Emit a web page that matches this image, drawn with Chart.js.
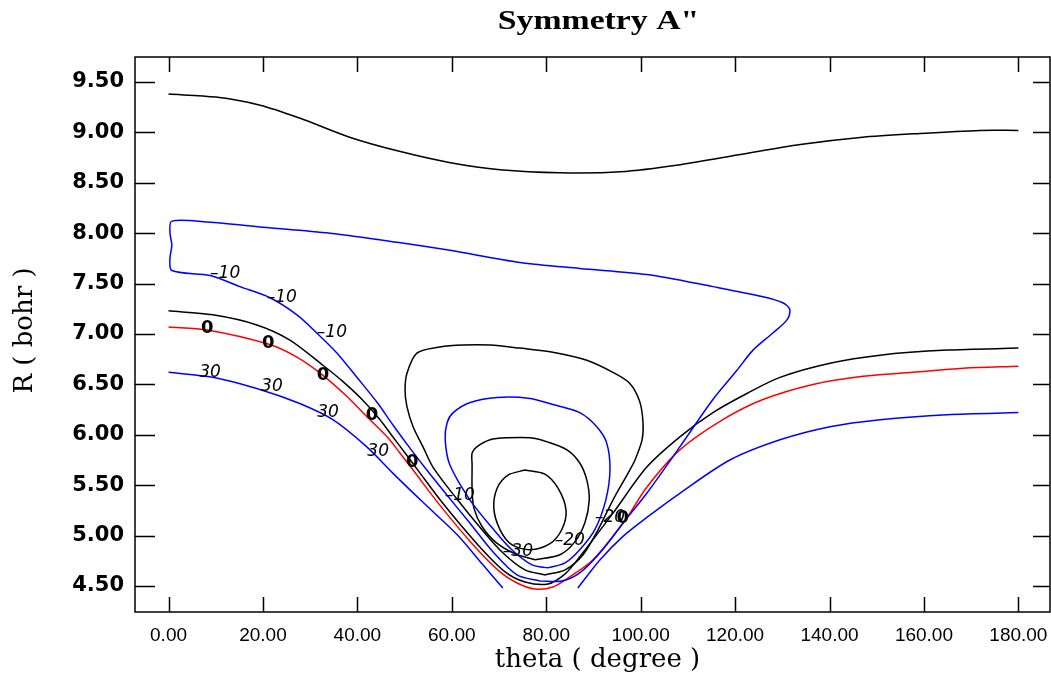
<!DOCTYPE html>
<html>
<head>
<meta charset="utf-8">
<title>Symmetry A"</title>
<script src="https://cdn.jsdelivr.net/npm/chart.js@4.4.1/dist/chart.umd.min.js"></script>
<style>
  html, body { margin: 0; padding: 0; background: #fff; }
</style>
</head>
<body>
<canvas id="contourChart" width="1051" height="675"></canvas>
<script>
// Contour lines, points are [theta (degree), R (bohr)]
const topBlack = [[0,9.38],[10,9.35],[19.4,9.27],[27.9,9.14],[38.5,8.95],[49.1,8.81],[59.7,8.70],[70.2,8.63],[82.9,8.60],[95.7,8.61],[108.4,8.68],[121.1,8.78],[133.8,8.88],[146.5,8.95],[159.2,8.99],[171.9,9.02],[180,9.02]];

const blueMinus10 = [[78.7,4.55],[73.8,4.61],[68.7,4.84],[63.9,5.12],[59.0,5.40],[54.7,5.65],[51.1,5.87],[47.5,6.10],[44.2,6.32],[39.9,6.57],[35.7,6.81],[31.4,7.01],[27.2,7.19],[21.5,7.36],[15.1,7.47],[8.8,7.58],[0.7,7.63],[0.3,7.75],[0.7,7.88],[0.3,8.01],[0.7,8.12],[8.2,8.11],[20.0,8.06],[34.2,8.00],[48.4,7.91],[59.6,7.83],[74.4,7.71],[87.1,7.65],[101.3,7.59],[115.3,7.47],[125.9,7.37],[130.1,7.31],[131.6,7.24],[131.0,7.14],[128.0,7.01],[123.8,6.84],[120.4,6.64],[115.3,6.35],[108.3,5.88],[101.3,5.42],[96.2,5.12],[91.4,4.83],[87.1,4.63],[83.3,4.55],[78.7,4.55]];

const blackOuter = [[0,7.23],[9.4,7.19],[18.7,7.09],[25.7,6.94],[32.7,6.69],[36.9,6.53],[41.0,6.35],[44.8,6.15],[47.5,5.98],[50.1,5.82],[52.8,5.65],[58.1,5.32],[65.5,4.91],[71.3,4.64],[75.5,4.54],[80.4,4.52],[84.0,4.62],[87.1,4.79],[94.1,5.22],[101.3,5.68],[108.3,5.98],[115.3,6.22],[122.5,6.41],[129.5,6.57],[140.1,6.71],[150.7,6.79],[164.9,6.84],[180,6.86]];

const redZero = [[0,7.07],[8.2,7.04],[21.1,6.90],[27.2,6.77],[32.7,6.59],[37.8,6.38],[42.0,6.18],[46.3,5.98],[49.0,5.82],[51.8,5.65],[57.5,5.30],[64.5,4.91],[70.2,4.64],[73.8,4.53],[77.6,4.47],[81.4,4.49],[85.0,4.59],[89.9,4.76],[96.7,5.15],[101.3,5.48],[108.3,5.85],[117.4,6.15],[125.9,6.35],[136.5,6.50],[147.1,6.58],[157.7,6.62],[168.3,6.66],[180,6.68]];

const blue30Left = [[0,6.62],[9.4,6.57],[20.0,6.44],[27.8,6.31],[34.8,6.15],[42.0,5.88],[47.5,5.62],[53.9,5.33],[61.1,5.01],[66.6,4.71],[70.8,4.48]];
const blue30Right = [[86.7,4.48],[91.4,4.76],[96.2,4.99],[101.3,5.18],[108.3,5.42],[118.9,5.75],[129.5,5.95],[140.1,6.08],[150.7,6.15],[164.9,6.20],[180,6.22]];

const wellBlack1 = [[79.7,4.61],[75.5,4.66],[70.8,4.83],[66.0,5.08],[61.3,5.35],[56.0,5.68],[53.9,5.88],[51.8,6.08],[50.5,6.28],[50.1,6.44],[50.5,6.61],[52.6,6.81],[57.5,6.87],[62.4,6.89],[68.1,6.89],[74.4,6.86],[81.4,6.82],[88.6,6.74],[94.1,6.62],[97.7,6.51],[99.8,6.33],[100.5,6.12],[100.3,5.95],[98.8,5.75],[97.7,5.65],[94.1,5.35],[91.0,5.06],[87.8,4.81],[84.0,4.66],[79.7,4.61]];

const wellBlue = [[80.4,4.68],[77.0,4.71],[72.7,4.86],[68.5,5.08],[63.9,5.35],[59.6,5.70],[58.6,5.95],[59.0,6.12],[60.3,6.22],[63.9,6.32],[69.6,6.37],[76.6,6.36],[81.4,6.30],[87.1,6.22],[90.7,6.08],[92.8,5.92],[93.5,5.65],[92.6,5.35],[90.3,5.06],[87.1,4.86],[84.0,4.73],[80.4,4.68]];

const wellBlack2 = [[77.6,4.76],[73.4,4.82],[69.4,4.93],[66.4,5.09],[64.7,5.27],[64.3,5.45],[64.3,5.70],[64.3,5.82],[65.3,5.88],[68.1,5.95],[71.7,5.97],[76.6,5.97],[80.2,5.93],[84.4,5.85],[87.1,5.72],[88.6,5.55],[89.1,5.35],[88.2,5.13],[86.1,4.94],[82.9,4.81],[77.6,4.76]];

const wellInner = [[75.5,5.65],[79.7,5.61],[82.5,5.47],[84.2,5.25],[83.3,5.06],[80.8,4.92],[76.6,4.86],[72.7,4.91],[70.2,5.06],[68.9,5.27],[69.6,5.47],[71.9,5.60],[75.5,5.65]];

// contour value labels
const labelText  = ['–10','–10','–10','0','0','0','0','0','0','30','30','30','30','–10','–30','–20','–20'];
const labelTheta = [12.0, 24.0, 34.6, 8.2, 21.1, 32.7, 43.1, 51.6, 96.2, 8.8, 21.9, 33.8, 44.4, 61.7, 74.0, 85.0, 93.5];
const labelR     = [7.60, 7.36, 7.01, 7.06, 6.91, 6.59, 6.19, 5.73, 5.17, 6.62, 6.48, 6.22, 5.83, 5.40, 4.84, 4.95, 5.18];

// axes
const xTickValues = [0, 20, 40, 60, 80, 100, 120, 140, 160, 180];
const yTickValues = [4.5, 5.0, 5.5, 6.0, 6.5, 7.0, 7.5, 8.0, 8.5, 9.0, 9.5];
const thetaRange = [-7.1, 186.7];
const rRange = [4.242, 9.748];

const BLUE = '#0000ff', RED = '#ff0000', BLACK = '#000000';

const contours = [
    { pts: topBlack, color: BLACK },
    { pts: blueMinus10, color: BLUE },
    { pts: blackOuter, color: BLACK },
    { pts: redZero, color: RED },
    { pts: blue30Left, color: BLUE },
    { pts: blue30Right, color: BLUE },
    { pts: wellBlack1, color: BLACK },
    { pts: wellBlue, color: BLUE },
    { pts: wellBlack2, color: BLACK },
    { pts: wellInner, color: BLACK }
];

function drawText(ctx, text, x, y, font, sx, angle) {
    ctx.save();
    ctx.translate(x, y);
    ctx.rotate(angle || 0);
    ctx.scale(sx || 1, 1);
    ctx.font = font;
    ctx.fillStyle = '#000';
    ctx.textAlign = 'center';
    ctx.textBaseline = 'middle';
    ctx.fillText(text, 0, 0);
    ctx.restore();
}

// frame with inward ticks, contour labels and titles
const framePlugin = {
    id: 'frame',
    afterDatasetsDraw(chart) {
        const ctx = chart.ctx;
        const { left, right, top, bottom } = chart.chartArea;
        const xs = chart.scales.x, ys = chart.scales.y;

        ctx.save();
        ctx.strokeStyle = '#000';
        ctx.lineWidth = 1.5;
        ctx.strokeRect(left, top, right - left, bottom - top);
        ctx.beginPath();
        xTickValues.forEach(v => {
            const px = Math.round(xs.getPixelForValue(v)) + 0.5;
            ctx.moveTo(px, bottom); ctx.lineTo(px, bottom - 15);
            ctx.moveTo(px, top); ctx.lineTo(px, top + 15);
        });
        yTickValues.forEach(v => {
            const py = Math.round(ys.getPixelForValue(v)) + 0.5;
            ctx.moveTo(left, py); ctx.lineTo(left + 20, py);
            ctx.moveTo(right, py); ctx.lineTo(right - 17, py);
        });
        ctx.stroke();
        ctx.restore();

        labelText.forEach((t, i) => {
            const px = xs.getPixelForValue(labelTheta[i]);
            const py = ys.getPixelForValue(labelR[i]);
            const font = t === '0' ? 'bold 18px "DejaVu Sans"' : 'italic 17px "DejaVu Sans"';
            drawText(ctx, t, px, py, font, 1);
        });
    },
    afterDraw(chart) {
        const ctx = chart.ctx;
        const { left, right, top, bottom } = chart.chartArea;
        const cx = (left + right) / 2;
        drawText(ctx, 'Symmetry A"', cx + 6, 22, 'bold 27px "Liberation Serif"', 1.25);
        drawText(ctx, 'theta ( degree )', cx + 5, bottom + 48, '26px "DejaVu Serif"', 1);
        drawText(ctx, 'R ( bohr )', 25, (top + bottom) / 2 - 4, '26px "DejaVu Serif"', 1, -Math.PI / 2);
    }
};

const ctx = document.getElementById('contourChart').getContext('2d');
new Chart(ctx, {
    type: 'scatter',
    data: {
        datasets: contours.map(c => ({
            data: c.pts.map(p => ({ x: p[0], y: p[1] })),
            borderColor: c.color,
            backgroundColor: c.color,
            showLine: true,
            pointRadius: 0,
            borderWidth: 1.5,
            tension: 0.3,
            fill: false
        }))
    },
    options: {
        responsive: false,
        animation: false,
        devicePixelRatio: 1,
        layout: { padding: { top: 57, right: 1, left: 0, bottom: 0 } },
        plugins: { legend: { display: false }, tooltip: { enabled: false } },
        scales: {
            x: {
                type: 'linear',
                min: thetaRange[0],
                max: thetaRange[1],
                afterBuildTicks: s => { s.ticks = xTickValues.map(v => ({ value: v })); },
                afterFit: s => { s.height = 63; s.paddingLeft = 0; s.paddingRight = 0; },
                grid: { display: false, drawTicks: false },
                border: { display: false },
                ticks: {
                    color: '#000',
                    padding: 12,
                    maxRotation: 0,
                    autoSkip: false,
                    font: { family: 'Liberation Sans', size: 19 },
                    callback: v => Number(v).toFixed(2)
                }
            },
            y: {
                type: 'linear',
                min: rRange[0],
                max: rRange[1],
                afterBuildTicks: s => { s.ticks = yTickValues.map(v => ({ value: v })); },
                afterFit: s => { s.width = 135; s.paddingTop = 0; s.paddingBottom = 0; },
                grid: { display: false, drawTicks: false },
                border: { display: false },
                ticks: {
                    color: '#000',
                    padding: 11,
                    autoSkip: false,
                    font: { family: 'DejaVu Sans', size: 21, weight: 'bold' },
                    callback: v => Number(v).toFixed(2)
                }
            }
        }
    },
    plugins: [framePlugin]
});
</script>
</body>
</html>
